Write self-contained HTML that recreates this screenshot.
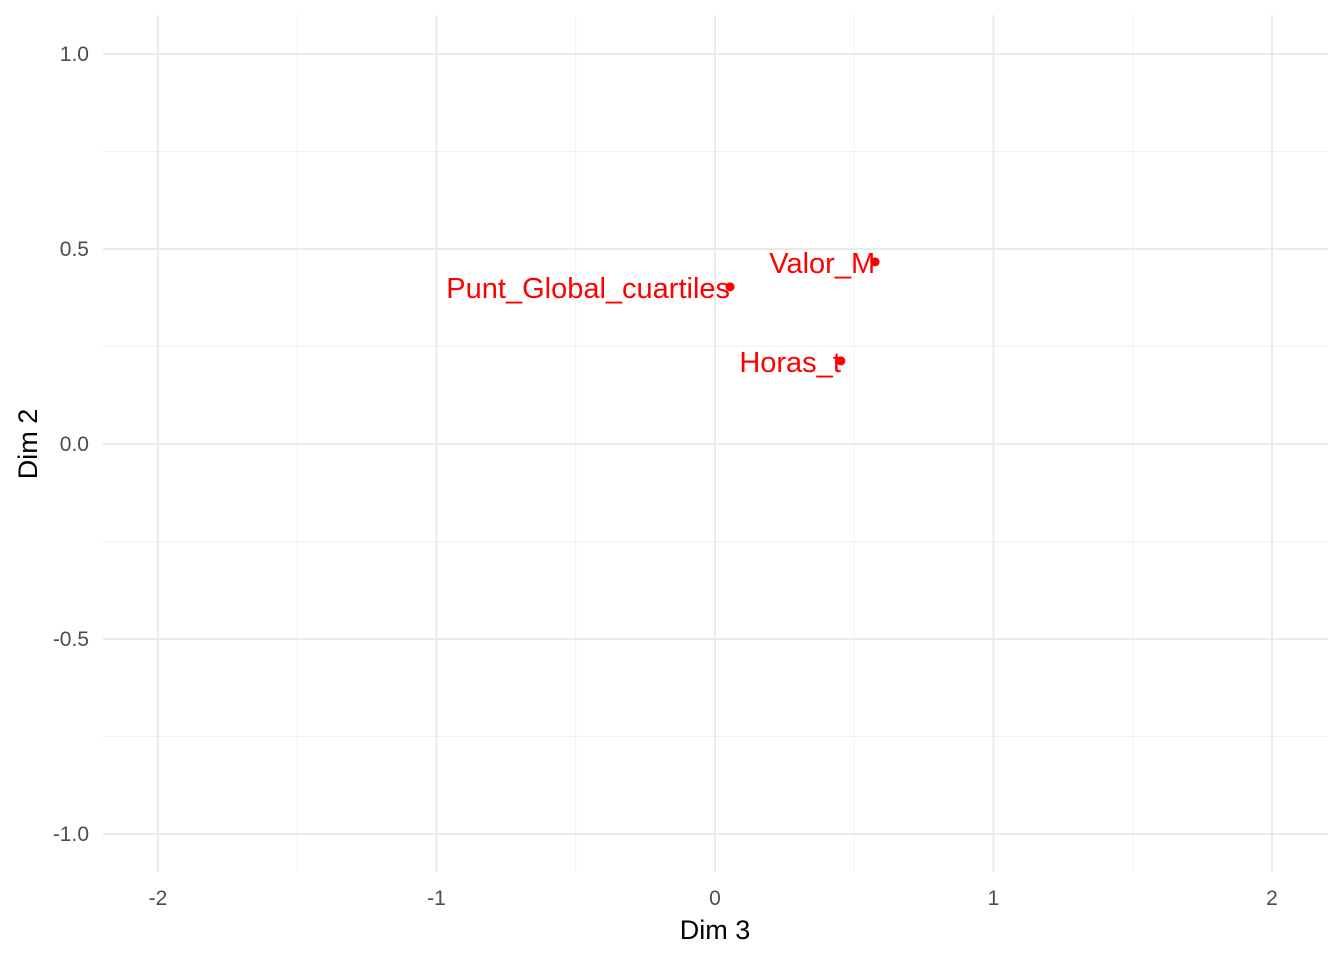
<!DOCTYPE html>
<html><head><meta charset="utf-8"><style>
html,body{margin:0;padding:0;background:#fff;}
svg{display:block;font-family:"Liberation Sans",Arial,sans-serif;}
</style></head><body>
<svg id="chart" width="1344" height="960" viewBox="0 0 1344 960" xmlns="http://www.w3.org/2000/svg">
<g id="grid"></g>
<g id="axes"></g>
<g id="marks"></g>
<text x="715" y="939" text-anchor="middle" font-size="27" fill="#000">Dim 3</text>
<text transform="translate(37,444) rotate(-90)" text-anchor="middle" font-size="27" fill="#000">Dim 2</text>
</svg>
<script>
const labels = ["Punt_Global_cuartiles","Valor_M","Horas_t"];
const xValues = [0.054, 0.575, 0.452];
const yValues = [0.403, 0.467, 0.213];
const xTicks = [-2,-1,0,1,2];
const xTickLabels = ["-2","-1","0","1","2"];
const yTicks = [-1,-0.5,0,0.5,1];
const yTickLabels = ["-1.0","-0.5","0.0","0.5","1.0"];

const L=103,R=1328,T=15,B=872;
const sx=v=>715+v*278.5;
const sy=v=>444-v*390;
const NS="http://www.w3.org/2000/svg";
function mk(tag,attrs,parent){const e=document.createElementNS(NS,tag);for(const k in attrs)e.setAttribute(k,attrs[k]);parent.appendChild(e);return e;}
const grid=document.getElementById('grid'),axes=document.getElementById('axes'),marks=document.getElementById('marks');
for(let i=0;i<xTicks.length-1;i++){const m=(xTicks[i]+xTicks[i+1])/2;
const l=mk('line',{x1:sx(m),x2:sx(m),y1:T,y2:B,stroke:'#f0f0f0','stroke-width':1},grid);

}
for(let i=0;i<yTicks.length-1;i++){const m=(yTicks[i]+yTicks[i+1])/2;
const l=mk('line',{x1:L,x2:R,y1:sy(m),y2:sy(m),stroke:'#f0f0f0','stroke-width':1},grid);

}
xTicks.forEach((v,i)=>{
const l=mk('line',{x1:sx(v),x2:sx(v),y1:T,y2:B,stroke:'#ebebeb','stroke-width':2},grid);


const t=mk('text',{x:sx(v),y:905,'text-anchor':'middle','font-size':21,fill:'#4d4d4d'},axes);
t.textContent=xTickLabels[i];


});
yTicks.forEach((v,i)=>{
const l=mk('line',{x1:L,x2:R,y1:sy(v),y2:sy(v),stroke:'#ebebeb','stroke-width':2},grid);


const t=mk('text',{x:89,y:sy(v)+7,'text-anchor':'end','font-size':21,fill:'#4d4d4d'},axes);
t.textContent=yTickLabels[i];


});
labels.forEach((lab,i)=>{
const c=mk('circle',{cx:sx(xValues[i]),cy:sy(yValues[i]),r:4.5,fill:'#ff0000'},marks);


const t=mk('text',{x:sx(xValues[i]),y:sy(yValues[i])+11,'text-anchor':'end','font-size':29,fill:'#ff0000'},marks);
t.textContent=lab;


});
</script>
</body></html>
